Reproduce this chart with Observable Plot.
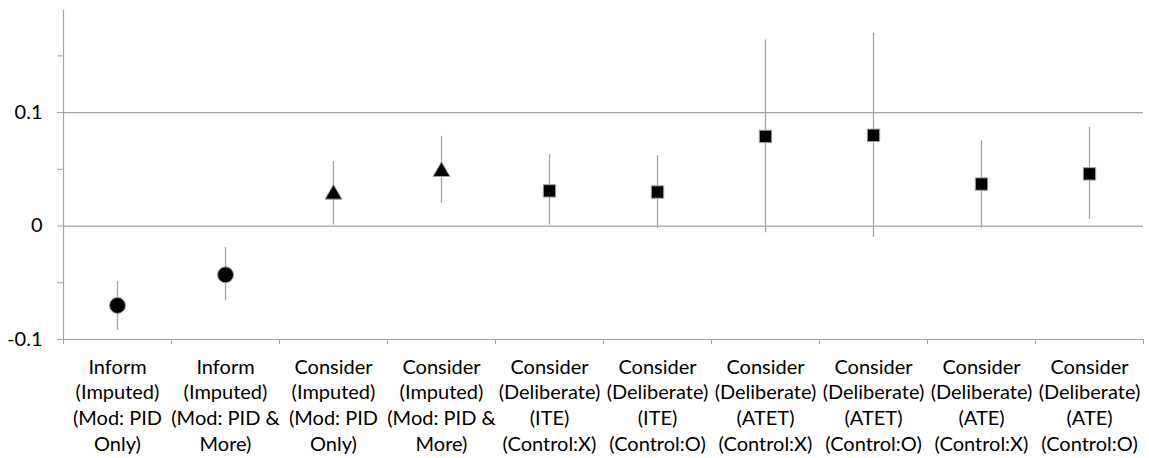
<!DOCTYPE html>
<html>
<head>
<meta charset="utf-8">
<script src="https://cdn.jsdelivr.net/npm/d3@7"></script>
<script src="https://cdn.jsdelivr.net/npm/@observablehq/plot@0.6"></script>
<style>
  body { margin: 0; background: #fff; }
</style>
</head>
<body>
<div id="chart"></div>
<script>
// Estimate categories (multi-line labels)
const categories = [
  "Inform\n(Imputed)\n(Mod: PID\nOnly)",
  "Inform\n(Imputed)\n(Mod: PID &\nMore)",
  "Consider\n(Imputed)\n(Mod: PID\nOnly)",
  "Consider\n(Imputed)\n(Mod: PID &\nMore)",
  "Consider\n(Deliberate)\n(ITE)\n(Control:X)",
  "Consider\n(Deliberate)\n(ITE)\n(Control:O)",
  "Consider\n(Deliberate)\n(ATET)\n(Control:X)",
  "Consider\n(Deliberate)\n(ATET)\n(Control:O)",
  "Consider\n(Deliberate)\n(ATE)\n(Control:X)",
  "Consider\n(Deliberate)\n(ATE)\n(Control:O)"
];

// Point estimates and interval bounds
const estimates = [-0.070, -0.043, 0.028, 0.048, 0.031, 0.030, 0.079, 0.080, 0.037, 0.046];
const lower     = [-0.092, -0.066, 0.001, 0.020, 0.001, -0.002, -0.006, -0.010, -0.002, 0.006];
const upper     = [-0.049, -0.019, 0.057, 0.079, 0.063, 0.062, 0.164, 0.170, 0.075, 0.087];

// Marker shape per estimate
const markers = ["circle", "circle", "triangle", "triangle", "square", "square", "square", "square", "square", "square"];

// Y axis ticks
const yMajorTicks = [-0.1, 0, 0.1];
const yTickLabels = ["-0.1", "0", "0.1"];
const yMinorTicks = [-0.1, -0.05, 0, 0.05, 0.1, 0.15];
const gridValues = [0, 0.1];

const rows = categories.map((c, i) => ({
  label: c, est: estimates[i], lo: lower[i], hi: upper[i], marker: markers[i]
}));

const W = 1149, H = 458;
const mLeft = 63, mRight = 6, mTop = 10, mBottom = 119;
const step = (W - mLeft - mRight) / categories.length;
const gray = "#A5A5A5";

const byMarker = (m) => rows.filter(d => d.marker === m);

const chart = Plot.plot({
  width: W,
  height: H,
  marginLeft: mLeft,
  marginRight: mRight,
  marginTop: mTop,
  marginBottom: mBottom,
  style: { fontFamily: "Lato, 'Open Sans', sans-serif", fontSize: "20px", color: "#000", background: "#fff" },
  x: { type: "band", domain: categories, padding: 0, axis: null },
  y: { domain: [-0.1, 0.19], axis: null },
  marks: [
    // horizontal gridlines
    Plot.ruleY(gridValues, { stroke: gray, strokeWidth: 1.2 }),
    // category axis line
    Plot.ruleY([-0.1], { stroke: gray, strokeWidth: 1.2 }),
    // value axis line at the left edge of the first band
    Plot.ruleX([categories[0]], { dx: -step / 2, stroke: gray, strokeWidth: 1.2 }),
    // y ticks (outward)
    Plot.axisY(yMinorTicks, { tickSize: 6, tickFormat: () => "", stroke: gray, label: null }),
    // y tick labels
    Plot.axisY(yMajorTicks, {
      tickSize: 0, tickPadding: 21, label: null, fontSize: 20,
      tickFormat: (d) => yTickLabels[yMajorTicks.indexOf(d)]
    }),
    // category separators on the x axis
    Plot.axisX(categories, { tickSize: 5, dx: -step / 2, tickFormat: () => "", stroke: gray, label: null }),
    Plot.axisX([categories[categories.length - 1]], { tickSize: 5, dx: step / 2, tickFormat: () => "", stroke: gray, label: null }),
    // category labels
    Plot.text(categories, {
      x: (d) => d, text: (d) => d,
      frameAnchor: "bottom", lineAnchor: "top", dy: 16,
      lineHeight: 1.285, fontSize: 20, fill: "#000"
    }),
    // confidence intervals
    Plot.ruleX(rows, { x: "label", y1: "lo", y2: "hi", stroke: gray, strokeWidth: 1.3 }),
    // point estimates
    Plot.dot(byMarker("circle"), { x: "label", y: "est", symbol: "circle", r: 8, fill: "#000", stroke: gray, strokeWidth: 1 }),
    Plot.dot(byMarker("triangle"), { x: "label", y: "est", symbol: "triangle", r: 6.3, fill: "#000", stroke: gray, strokeWidth: 1 }),
    Plot.dot(byMarker("square"), { x: "label", y: "est", symbol: "square", r: 7, fill: "#000", stroke: gray, strokeWidth: 1 })
  ]
});

document.getElementById("chart").appendChild(chart);
</script>
</body>
</html>
